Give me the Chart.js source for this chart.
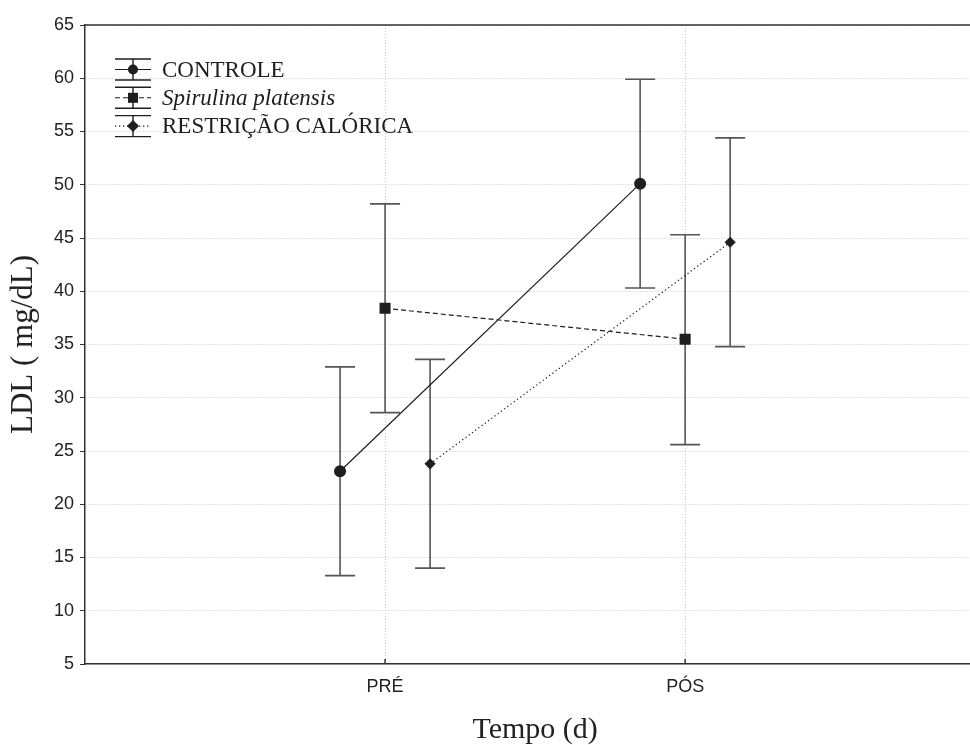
<!DOCTYPE html>
<html>
<head>
<meta charset="utf-8">
<script src="https://cdn.jsdelivr.net/npm/chart.js@4/dist/chart.umd.min.js"></script>
<style>
  html, body { margin: 0; padding: 0; background: #fff; overflow: hidden; }
  #chart { display: block; }
</style>
</head>
<body>
<canvas id="chart" width="993" height="745"></canvas>
<script>
// categorias do eixo x
const categories = ["PRÉ", "PÓS"];
// deslocamento de cada grupo em torno da categoria
const groupOffsets = [-0.15, 0, 0.15];

const controleMean = [23.1, 50.1];
const controleLow = [13.3, 40.3];
const controleHigh = [32.9, 59.9];

const spirulinaMean = [38.4, 35.5];
const spirulinaLow = [28.6, 25.6];
const spirulinaHigh = [48.2, 45.3];

const restricaoMean = [23.8, 44.6];
const restricaoLow = [14.0, 34.8];
const restricaoHigh = [33.6, 54.4];

const yTicks = { min: 5, max: 65, step: 5 };

const ink = "#1e1e1e";
const barInk = "#555555";

const toPoints = (means, g) => means.map((v, i) => ({ x: i + 1 + groupOffsets[g], y: v }));

const errorBars = {
  id: "errorBars",
  beforeDatasetsDraw(chart) {
    const { ctx, scales: { x, y } } = chart;
    ctx.save();
    ctx.strokeStyle = barInk;
    ctx.lineWidth = 1.6;
    chart.data.datasets.forEach((ds) => {
      ds.data.forEach((p, i) => {
        const px = x.getPixelForValue(p.x);
        const lo = y.getPixelForValue(ds.errLow[i]);
        const hi = y.getPixelForValue(ds.errHigh[i]);
        ctx.beginPath();
        ctx.moveTo(px, lo);
        ctx.lineTo(px, hi);
        ctx.moveTo(px - 15, lo);
        ctx.lineTo(px + 15, lo);
        ctx.moveTo(px - 15, hi);
        ctx.lineTo(px + 15, hi);
        ctx.stroke();
      });
    });
    ctx.restore();
  },
};

// linha de cima e marcas internas do eixo x
const frame = {
  id: "frame",
  afterDraw(chart) {
    const { ctx, chartArea: { left, right, top, bottom }, scales: { x } } = chart;
    ctx.save();
    ctx.strokeStyle = "#333";
    ctx.lineWidth = 1.5;
    ctx.beginPath();
    ctx.moveTo(left, top);
    ctx.lineTo(right, top);
    x.ticks.forEach((t) => {
      const px = x.getPixelForValue(t.value);
      ctx.moveTo(px, bottom);
      ctx.lineTo(px, bottom - 5);
    });
    ctx.stroke();
    ctx.restore();
  },
};

function drawMarker(ctx, style, cx, cy, r) {
  ctx.beginPath();
  if (style === "circle") {
    ctx.arc(cx, cy, r, 0, Math.PI * 2);
  } else if (style === "rect") {
    ctx.rect(cx - r, cy - r, 2 * r, 2 * r);
  } else {
    ctx.moveTo(cx, cy - r - 1);
    ctx.lineTo(cx + r + 1, cy);
    ctx.lineTo(cx, cy + r + 1);
    ctx.lineTo(cx - r - 1, cy);
    ctx.closePath();
  }
  ctx.fill();
}

const boxLegend = {
  id: "boxLegend",
  afterDraw(chart) {
    const { ctx, chartArea: { left, top } } = chart;
    const x0 = left + 30;
    const w = 36;
    const cx = x0 + w / 2;
    ctx.save();
    chart.data.datasets.forEach((ds, i) => {
      const cy = top + 44.5 + i * 28.3;
      ctx.strokeStyle = ink;
      ctx.lineWidth = 1.4;
      ctx.setLineDash([]);
      ctx.beginPath();
      ctx.moveTo(cx, cy - 10.5);
      ctx.lineTo(cx, cy + 10.5);
      ctx.moveTo(x0, cy - 10.5);
      ctx.lineTo(x0 + w, cy - 10.5);
      ctx.moveTo(x0, cy + 10.5);
      ctx.lineTo(x0 + w, cy + 10.5);
      ctx.stroke();
      ctx.lineWidth = 1.1;
      ctx.setLineDash(ds.borderDash || []);
      ctx.beginPath();
      ctx.moveTo(x0, cy);
      ctx.lineTo(x0 + w, cy);
      ctx.stroke();
      ctx.setLineDash([]);
      ctx.fillStyle = ink;
      drawMarker(ctx, ds.pointStyle, cx, cy, 5);
      ctx.font = (ds.italicLabel ? "italic " : "") + "23px 'Liberation Serif', 'Times New Roman', serif";
      ctx.textBaseline = "middle";
      ctx.fillText(ds.label, x0 + w + 11, cy + 1);
    });
    ctx.restore();
  },
};

const gridStyle = {
  color: "#c8c8c8",
  lineWidth: 1,
  tickColor: "#333",
  tickBorderDash: [],
};

new Chart(document.getElementById("chart"), {
  type: "line",
  data: {
    datasets: [
      {
        label: "CONTROLE",
        data: toPoints(controleMean, 0),
        errLow: controleLow,
        errHigh: controleHigh,
        borderColor: ink,
        backgroundColor: ink,
        borderWidth: 1.2,
        pointStyle: "circle",
        pointRadius: 6,
        pointBorderWidth: 0,
      },
      {
        label: "Spirulina platensis",
        italicLabel: true,
        data: toPoints(spirulinaMean, 1),
        errLow: spirulinaLow,
        errHigh: spirulinaHigh,
        borderColor: ink,
        backgroundColor: ink,
        borderWidth: 1.2,
        borderDash: [5, 3],
        pointStyle: "rect",
        pointRadius: 7.8,
        pointBorderWidth: 0,
      },
      {
        label: "RESTRIÇÃO CALÓRICA",
        data: toPoints(restricaoMean, 2),
        errLow: restricaoLow,
        errHigh: restricaoHigh,
        borderColor: ink,
        backgroundColor: ink,
        borderWidth: 1.2,
        borderDash: [1.3, 2.7],
        pointStyle: "rectRot",
        pointRadius: 5.6,
        pointBorderWidth: 0,
      },
    ],
  },
  options: {
    responsive: false,
    animation: false,
    devicePixelRatio: 1,
    layout: { padding: { top: 25, left: 0, right: 0, bottom: 0 } },
    plugins: {
      legend: { display: false },
      tooltip: { enabled: false },
    },
    scales: {
      x: {
        type: "linear",
        min: 0,
        max: 3,
        afterBuildTicks: (scale) => {
          scale.ticks = categories.map((c, i) => ({ value: i + 1 }));
        },
        afterFit: (scale) => {
          scale.height = 81;
        },
        grid: { ...gridStyle, drawTicks: false },
        border: { color: "#333", width: 1.5, dash: [1, 2] },
        ticks: {
          padding: 12,
          color: "#222",
          font: { family: "'Liberation Sans', Arial, sans-serif", size: 18 },
          callback: (v) => categories[v - 1] || "",
        },
        title: {
          display: true,
          text: "Tempo (d)",
          color: "#222",
          font: { family: "'Liberation Serif', 'Times New Roman', serif", size: 30, lineHeight: 1 },
          padding: { top: 0, bottom: 0 },
        },
      },
      y: {
        min: yTicks.min,
        max: yTicks.max,
        afterFit: (scale) => {
          scale.width = 85;
        },
        grid: { ...gridStyle, tickLength: 5 },
        border: { color: "#333", width: 1.5, dash: [1, 2] },
        ticks: {
          stepSize: yTicks.step,
          padding: 6,
          color: "#222",
          font: { family: "'Liberation Sans', Arial, sans-serif", size: 18 },
        },
        title: {
          display: true,
          text: "LDL ( mg/dL)",
          color: "#222",
          font: { family: "'Liberation Serif', 'Times New Roman', serif", size: 31, lineHeight: 1.2 },
          padding: { top: 5, bottom: 0 },
        },
      },
    },
  },
  plugins: [errorBars, frame, boxLegend],
});
</script>
</body>
</html>
